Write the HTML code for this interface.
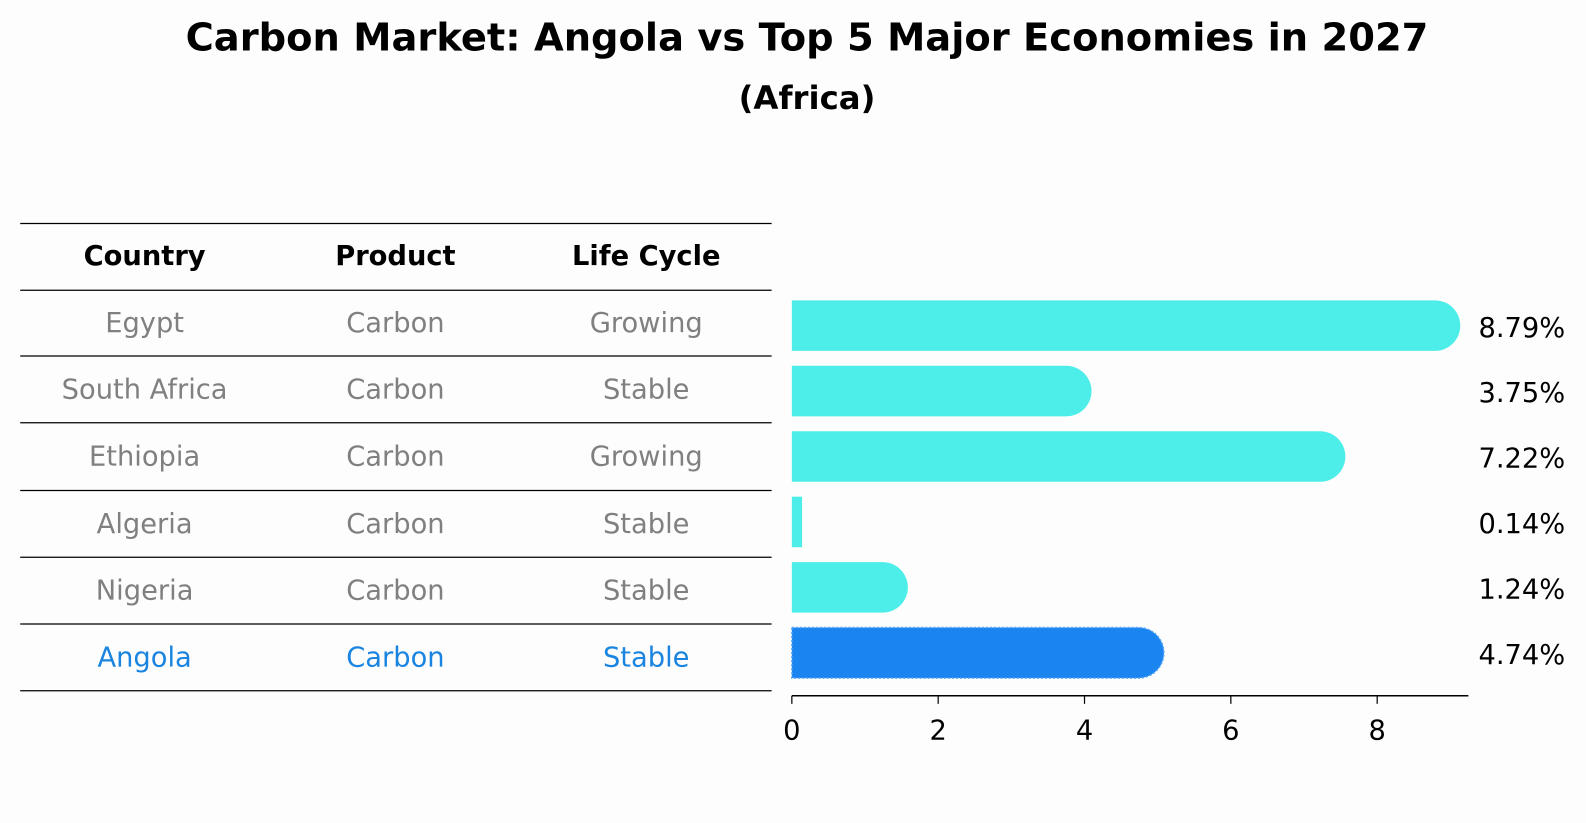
<!DOCTYPE html>
<html><head><meta charset="utf-8"><style>
html,body{margin:0;padding:0;overflow:hidden;background:#fdfdfd;font-family:"Liberation Sans","DejaVu Sans",sans-serif;}
svg{display:block;}
svg text{font-family:"DejaVu Sans","Liberation Sans",sans-serif;}
</style></head><body>
<svg id="chart" width="1586" height="823" viewBox="0 0 1586 823">
<rect width="1586" height="823" fill="#fdfdfd"/>
<g transform="scale(1.0113)">
<text x="798" y="50" text-anchor="middle" font-size="38" font-weight="bold">Carbon Market: Angola vs Top 5 Major Economies in 2027</text>
<text x="798" y="108" text-anchor="middle" font-size="32" font-weight="bold">(Africa)</text>
<g id="table"></g>
<g id="bars"></g>
</g>
</svg>
<script>
const countries=["Egypt","South Africa","Ethiopia","Algeria","Nigeria","Angola"];
const products=["Carbon","Carbon","Carbon","Carbon","Carbon","Carbon"];
const lifeCycles=["Growing","Stable","Growing","Stable","Stable","Stable"];
const values=[8.79,3.75,7.22,0.14,1.24,4.74];
const valueLabels=["8.79%","3.75%","7.22%","0.14%","1.24%","4.74%"];
const ticks=[0,2,4,6,8];
const headers=["Country","Product","Life Cycle"];
const highlight="Angola";

const NS="http://www.w3.org/2000/svg";
function mk(tag,attrs,parent,txt){const e=document.createElementNS(NS,tag);for(const k in attrs)e.setAttribute(k,attrs[k]);if(txt!==undefined)e.textContent=txt;parent.appendChild(e);return e;}
const x0=783,pxPerUnit=72.35;
const xs=v=>x0+v*pxPerUnit;
const rowY=i=>322+i*64.7;
const tbl=document.getElementById('table');
const lineYs=[221,287,352,418,485,551,617,683];
const colX=[143,391,639];
lineYs.forEach(y=>{
 const l=mk('line',{x1:20,x2:763,y1:y,y2:y,stroke:'#000','stroke-width':1.2},tbl);
 
 
});
headers.forEach((h,j)=>{
 const t=mk('text',{x:colX[j],y:262,'text-anchor':'middle','font-size':27,'font-weight':'bold'},tbl,h);
 
 
});
countries.forEach((c,i)=>{
 const col=c===highlight?'#1a85e0':'#808080';
 [c,products[i],lifeCycles[i]].forEach((v,j)=>{
  const t=mk('text',{x:colX[j],y:(lineYs[i+1]+lineYs[i+2])/2+9,'text-anchor':'middle','font-size':27,fill:col},tbl,v);
  
  
 });
});
const bars=document.getElementById('bars');
const h=50,r=25;
values.forEach((v,i)=>{
 const hi=countries[i]===highlight;
 const fill=hi?'#1a85f0':'#4deee9';
 const yc=rowY(i);
 const g=mk('g',{},bars);
 
 
 const w=xs(v)-x0;
 if(v>0.5){
  mk('path',{d:`M${x0},${yc-h/2} H${x0+w} A${r},${r} 0 0 1 ${x0+w},${yc+h/2} H${x0} Z`,fill:fill,stroke:hi?'#5aa8f5':'none','stroke-dasharray':hi?'2,2':'none','stroke-width':1.5},g);
 }else{
  mk('rect',{x:x0,y:yc-h/2,width:w,height:h,fill:fill},g);
 }
 const t=mk('text',{x:1462,y:yc+11,'font-size':27},bars,valueLabels[i]);
 
 
});
const ax=mk('line',{x1:x0,x2:1452,y1:688,y2:688,stroke:'#000','stroke-width':1.5},bars);


ticks.forEach(tv=>{
 mk('line',{x1:xs(tv),x2:xs(tv),y1:688,y2:696,stroke:'#000','stroke-width':1.2},bars);
 const t=mk('text',{x:xs(tv),y:731,'text-anchor':'middle','font-size':27},bars,String(tv));
 
 
});
</script>
</body></html>
